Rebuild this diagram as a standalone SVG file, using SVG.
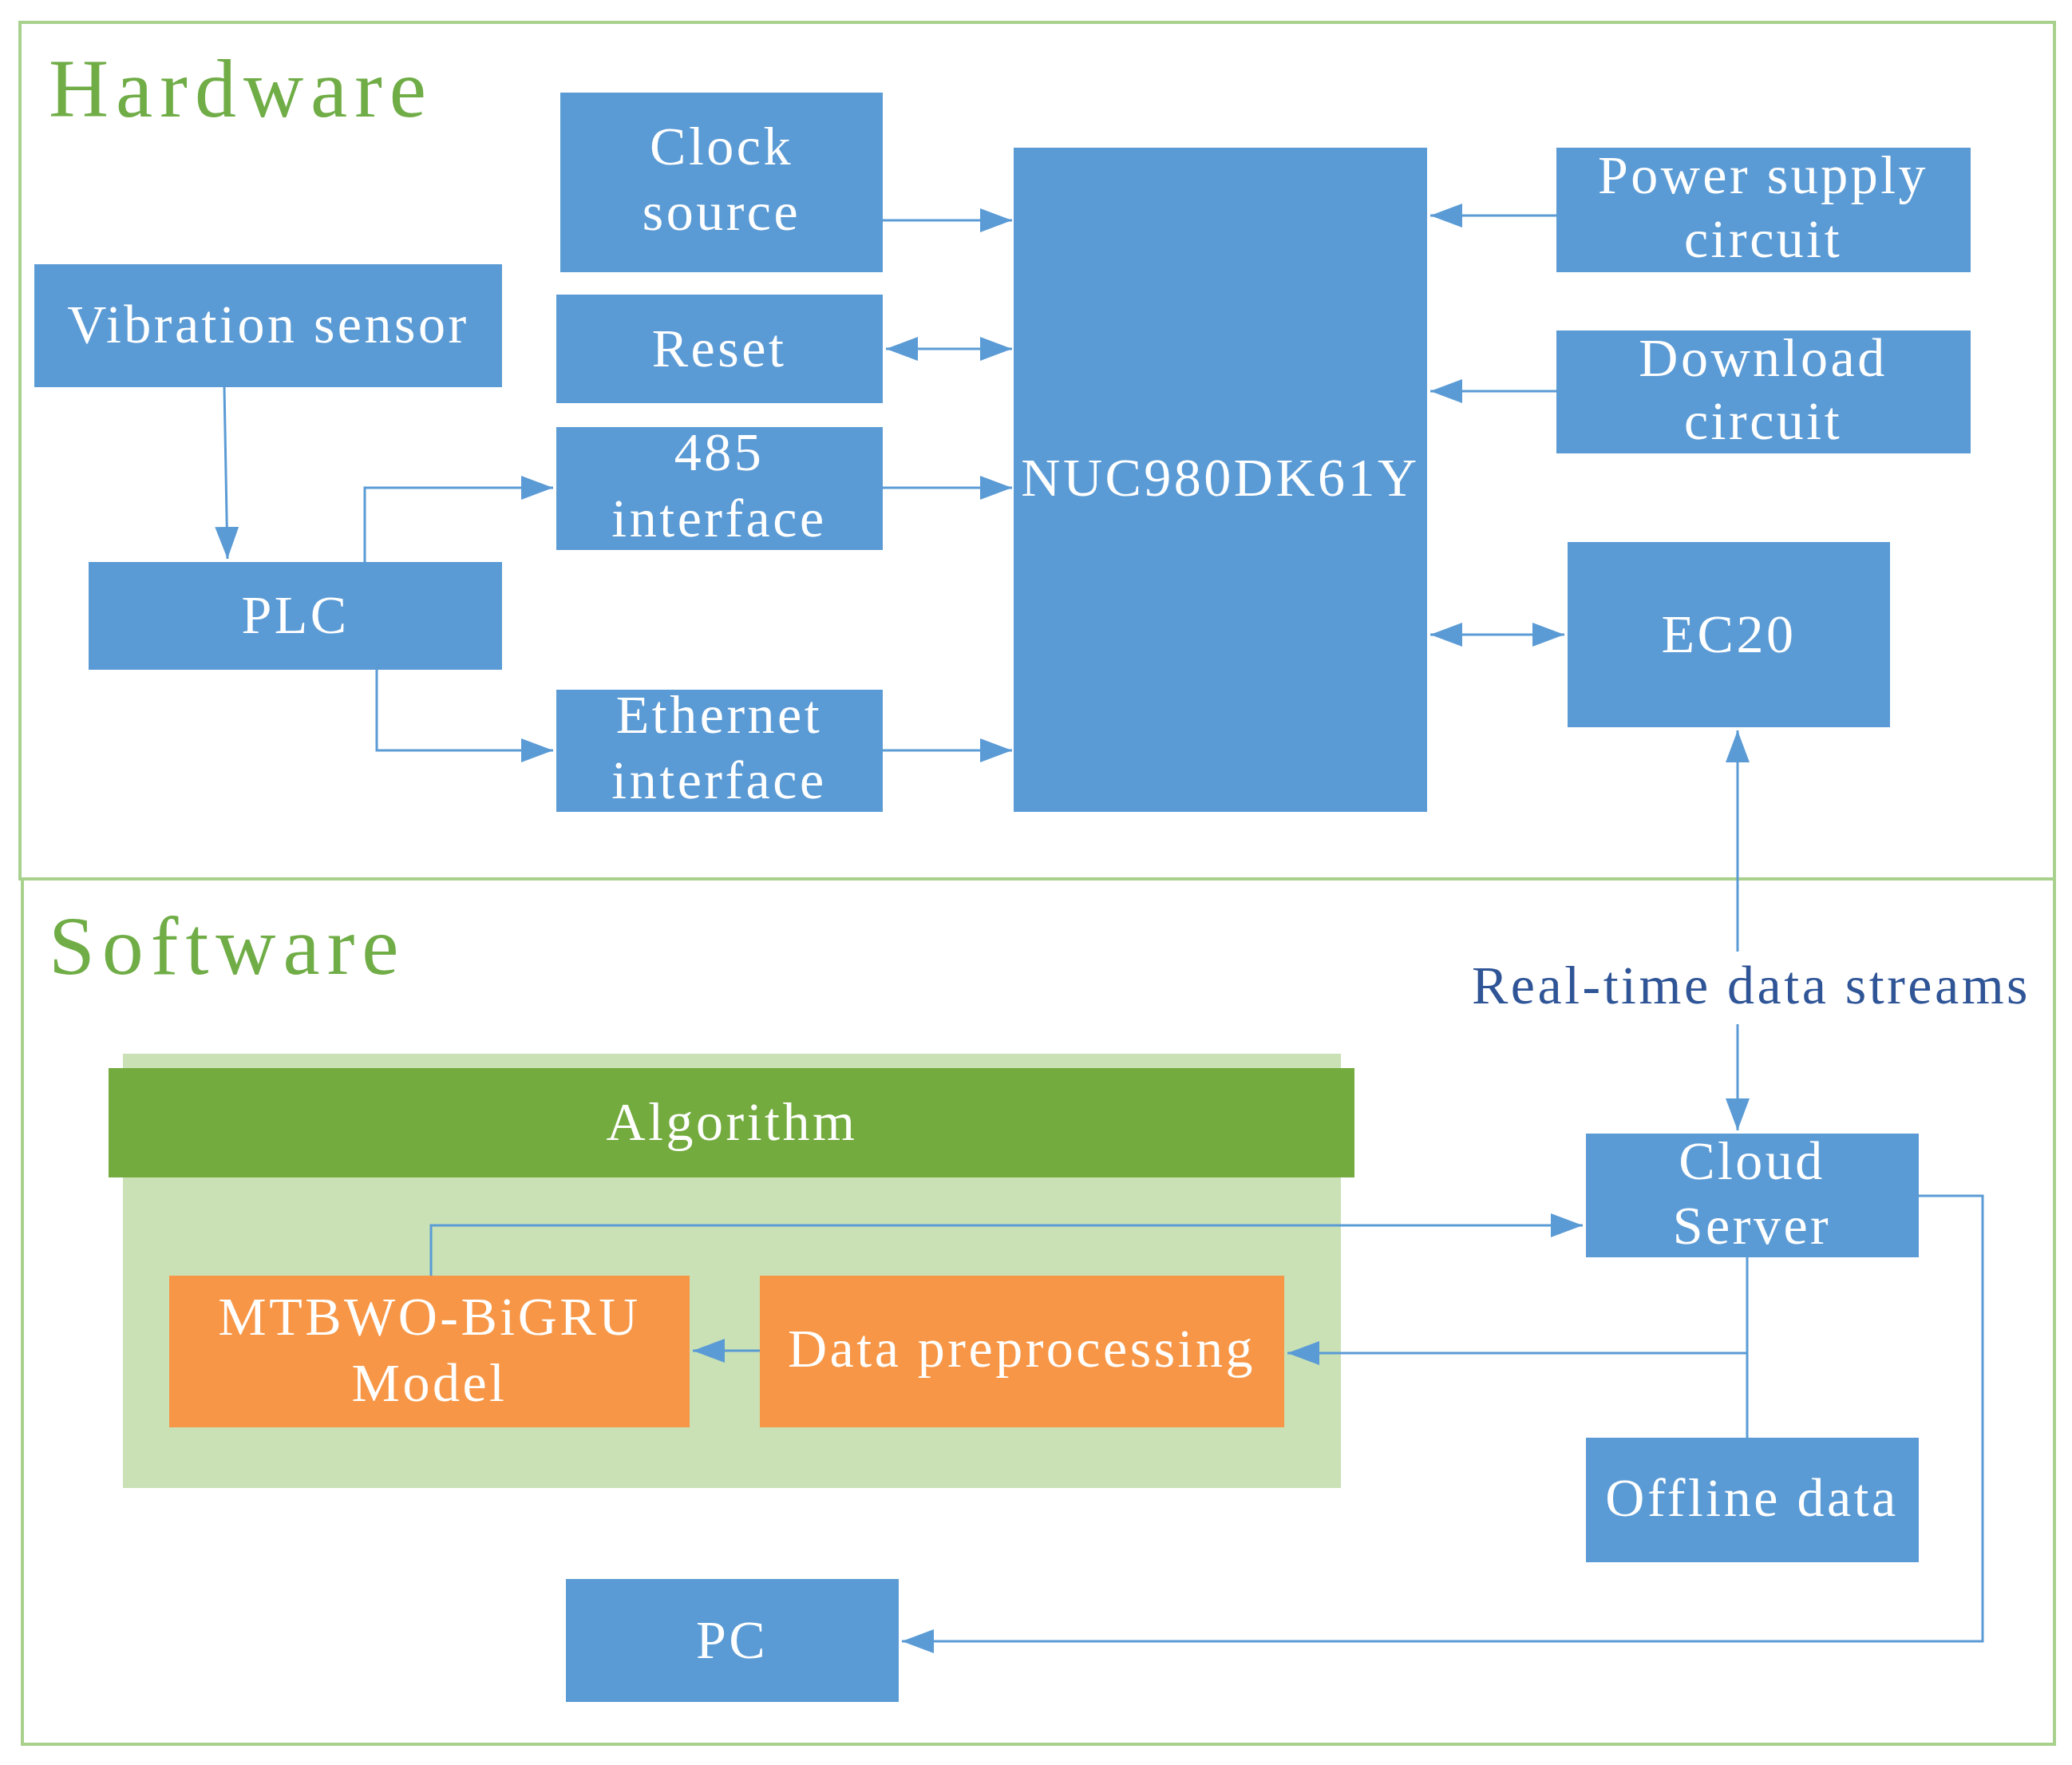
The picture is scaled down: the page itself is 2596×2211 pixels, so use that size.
<svg xmlns="http://www.w3.org/2000/svg" width="2596" height="2211" viewBox="0 0 2596 2211">
<style>
.b{fill:#5b9bd5}
.t{font-family:"Liberation Serif","DejaVu Serif",serif;font-size:68px;fill:#fff;text-anchor:middle;letter-spacing:3.5px}
.h{font-family:"Liberation Serif","DejaVu Serif",serif;font-size:104px;fill:#70ad47;letter-spacing:9px}
.c{fill:none;stroke:#5b9bd5;stroke-width:3}
.o{fill:#f79646}
</style>
<defs>
<marker id="w" viewBox="0 0 10 10" refX="10" refY="5" markerWidth="40" markerHeight="30" markerUnits="userSpaceOnUse" orient="auto-start-reverse" preserveAspectRatio="none"><path d="M0,0 L10,5 L0,10 z" fill="#5b9bd5"/></marker>
</defs>
<rect width="2596" height="2211" fill="#fff"/>
<g id="frames" fill="none" stroke="#a9d18e" stroke-width="4">
<rect x="25" y="28" width="2549" height="1073"/>
<rect x="28" y="1101" width="2546" height="1084"/>
</g>
<text class="h" x="61" y="146">Hardware</text>
<text class="h" x="61" y="1220">Software</text>
<g id="algo">
<rect x="154" y="1320" width="1526" height="544" fill="#c9e1b5"/>
<rect x="136" y="1338" width="1561" height="137" fill="#73ab3e"/>
<text class="t" x="917" y="1428">Algorithm</text>
</g>
<g id="clock"><rect class="b" x="702" y="116" width="404" height="225"/><text class="t" x="904" y="206">Clock</text><text class="t" x="904" y="288">source</text></g>
<g id="reset"><rect class="b" x="697" y="369" width="409" height="136"/><text class="t" x="901" y="459">Reset</text></g>
<g id="i485"><rect class="b" x="697" y="535" width="409" height="154"/><text class="t" x="901" y="589">485</text><text class="t" x="901" y="672">interface</text></g>
<g id="eth"><rect class="b" x="697" y="864" width="409" height="153"/><text class="t" x="901" y="918">Ethernet</text><text class="t" x="901" y="1000">interface</text></g>
<g id="nuc"><rect class="b" x="1270" y="185" width="518" height="832"/><text class="t" x="1529" y="621">NUC980DK61Y</text></g>
<g id="power"><rect class="b" x="1950" y="185" width="519" height="156"/><text class="t" x="2209" y="242">Power supply</text><text class="t" x="2209" y="322">circuit</text></g>
<g id="download"><rect class="b" x="1950" y="414" width="519" height="154"/><text class="t" x="2209" y="471">Download</text><text class="t" x="2209" y="550">circuit</text></g>
<g id="ec20"><rect class="b" x="1964" y="679" width="404" height="232"/><text class="t" x="2166" y="817">EC20</text></g>
<g id="vib"><rect class="b" x="43" y="331" width="586" height="154"/><text class="t" x="336" y="429">Vibration sensor</text></g>
<g id="plc"><rect class="b" x="111" y="704" width="518" height="135"/><text class="t" x="370" y="793">PLC</text></g>
<g id="mtbwo"><rect class="o" x="212" y="1598" width="652" height="190"/><text class="t" x="538" y="1672">MTBWO-BiGRU</text><text class="t" x="538" y="1755">Model</text></g>
<g id="prep"><rect class="o" x="952" y="1598" width="657" height="190"/><text class="t" x="1280" y="1712">Data preprocessing</text></g>
<g id="cloud"><rect class="b" x="1987" y="1420" width="417" height="155"/><text class="t" x="2195" y="1477">Cloud</text><text class="t" x="2195" y="1558">Server</text></g>
<g id="offline"><rect class="b" x="1987" y="1801" width="417" height="156"/><text class="t" x="2195" y="1899">Offline data</text></g>
<g id="pc"><rect class="b" x="709" y="1978" width="417" height="154"/><text class="t" x="917" y="2077">PC</text></g>
<text x="2194" y="1257" font-family="Liberation Serif,DejaVu Serif,serif" font-size="68" letter-spacing="3.5" fill="#2f5597" text-anchor="middle">Real-time data streams</text>
<g id="connectors">
<path class="c" d="M1106,276H1268" marker-end="url(#w)"/>
<path class="c" d="M1110,437H1268" marker-start="url(#w)" marker-end="url(#w)"/>
<path class="c" d="M1106,611H1268" marker-end="url(#w)"/>
<path class="c" d="M1106,940H1268" marker-end="url(#w)"/>
<path class="c" d="M1950,270H1792" marker-end="url(#w)"/>
<path class="c" d="M1950,490H1792" marker-end="url(#w)"/>
<path class="c" d="M1792,795H1960" marker-start="url(#w)" marker-end="url(#w)"/>
<path class="c" d="M281,485L285,700" marker-end="url(#w)"/>
<path class="c" d="M457,704V611H693" marker-end="url(#w)"/>
<path class="c" d="M472,839V940H693" marker-end="url(#w)"/>
<path class="c" d="M2177,1192V915" marker-end="url(#w)"/>
<path class="c" d="M2177,1283V1416" marker-end="url(#w)"/>
<path class="c" d="M540,1598V1535H1983" marker-end="url(#w)"/>
<path class="c" d="M2189,1575V1801M2189,1695H1613" marker-end="url(#w)"/>
<path class="c" d="M952,1692H868" marker-end="url(#w)"/>
<path class="c" d="M2404,1498H2484V2056H1130" marker-end="url(#w)"/>
</g>
</svg>
